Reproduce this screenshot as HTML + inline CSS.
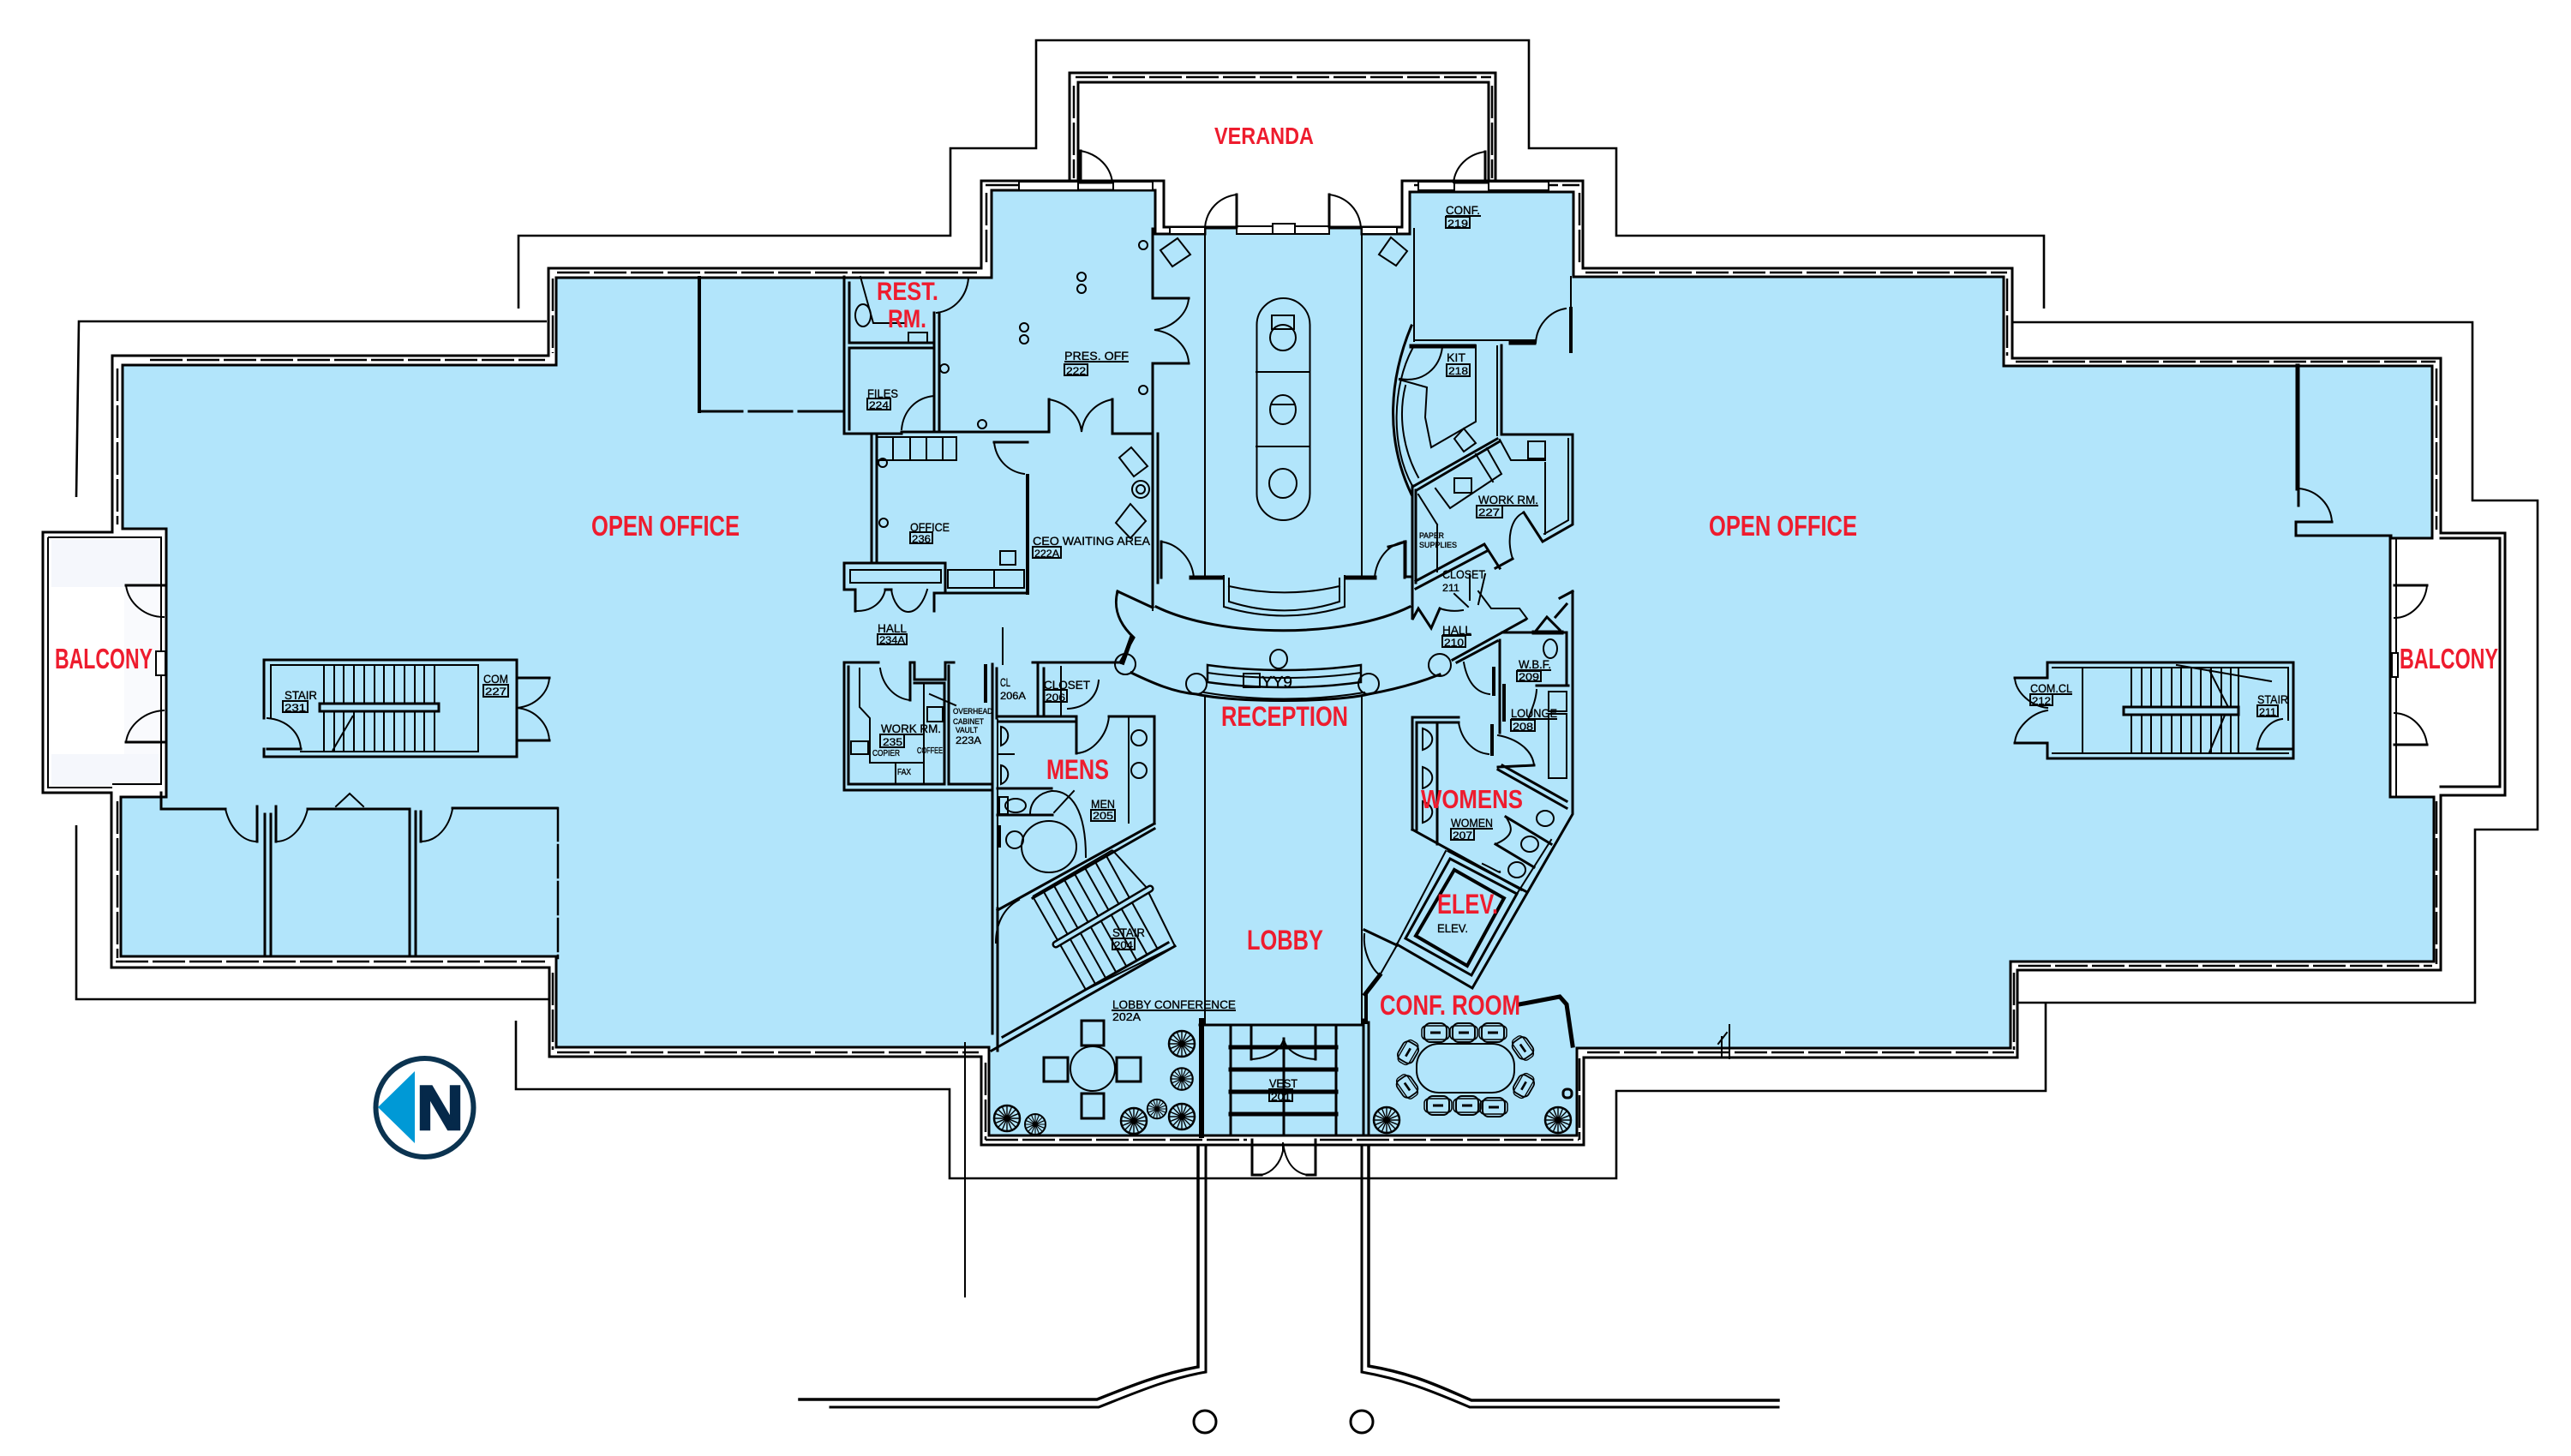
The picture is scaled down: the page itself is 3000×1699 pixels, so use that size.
<!DOCTYPE html>
<html>
<head>
<meta charset="utf-8">
<style>
html,body{margin:0;padding:0;background:#fff}
svg{display:block}
.k{fill:none;stroke:#000;stroke-width:3;stroke-linecap:square}
.b{fill:none;stroke:#000;stroke-width:2}
.h{fill:none;stroke:#000;stroke-width:6}
.w{fill:none;stroke:#000;stroke-width:2.5;stroke-dasharray:38 5}
.o{fill:none;stroke:#000;stroke-width:2.6}
.t{fill:none;stroke:#000;stroke-width:2}
text{font-family:"Liberation Sans",sans-serif}
.r{fill:#ee1c2e;font-weight:bold}
.s{fill:#000;font-size:14px;stroke:#000;stroke-width:.35}
</style>
</head>
<body>
<svg xmlns="http://www.w3.org/2000/svg" width="3000" height="1699" viewBox="0 0 3000 1699">
<defs>
<g id="p"><circle r="15" fill="none" stroke="#000" stroke-width="2.5"/><circle r="3" fill="#000"/>
<path d="M-15,0H15M0,-15V15M-10.6,-10.6L10.6,10.6M-10.6,10.6L10.6,-10.6M-5.7,-13.9L5.7,13.9M5.7,-13.9L-5.7,13.9M-13.9,-5.7L13.9,5.7M-13.9,5.7L13.9,-5.7" stroke="#000" stroke-width="1.4"/></g>
<g id="c"><rect x="-13" y="-11" width="26" height="22" rx="7" fill="none" stroke="#000" stroke-width="2"/><rect x="-16" y="-8" width="32" height="16" rx="5" fill="none" stroke="#000" stroke-width="1.5"/><path d="M-6,0H6" stroke="#000" stroke-width="3"/></g>
</defs>

<!-- blue floor fill -->
<polygon points="143,426 649,426 649,324 1157,324 1157,222 1348,222 1348,273 1406,273 1406,266 1589,266 1589,273 1645,273 1645,224 1836,224 1836,323 2338,323 2338,427 2838,427 2838,628 2789,628 2789,930 2840,930 2840,1122 2346,1122 2346,1223 1840,1223 1840,1325 1154,1325 1154,1222 649,1222 649,1116 141,1116 141,930 194,930 194,617 143,617" fill="#b2e5fb" stroke="#000" stroke-width="3"/>

<!-- balcony faint -->
<rect x="60" y="630" width="125" height="55" fill="#f5f7fc"/>
<rect x="60" y="880" width="125" height="37" fill="#f5f7fc"/>
<rect x="145" y="685" width="40" height="195" fill="#f9fafd"/>

<!-- outer setback line -->
<g class="o">
<path d="M605,360V275H1109V173H1209V47H1784V173H1886V275H2385V360"/>
<path d="M2348,376H2885V584H2961V968H2888V1170H2354"/>
<path d="M2387,1170V1273H1886V1375H1108V1271H602V1191"/>
<path d="M640,1166H89V963"/>
<path d="M89,580L92,375H638"/>
<path d="M1126,1216V1514" stroke-width="2"/>
</g>

<!-- building outer wall -->
<polygon class="k" stroke-width="3.5" points="131,415 640,415 640,313 1145,313 1145,211 1358,211 1358,265 1636,265 1636,211 1847,211 1847,313 2348,313 2348,418 2848,418 2848,622 2923,622 2923,928 2848,928 2848,1132 2354,1132 2354,1234 1848,1234 1848,1336 1145,1336 1145,1233 641,1233 641,1129 130,1129 130,925 50,925 50,621 131,621"/>
<path class="k" d="M1248,212V85H1745V212" stroke-width="4"/>
<path class="k" d="M1258,213V96H1737V213" stroke-width="4"/>
<path class="k" d="M1258,213H1299M1696,213H1737"/>
<path class="b" d="M56,627H131M56,627V919H131"/>
<path class="k" d="M2848,628H2917V918H2848"/>
<path class="b" d="M131,627H188V915H131"/>
<path class="b" d="M2796,628V930"/>
<rect x="182" y="760" width="11" height="28" fill="#fff" stroke="#000" stroke-width="2"/>
<rect x="2791" y="762" width="7" height="28" fill="#fff" stroke="#000" stroke-width="2"/>

<!-- window dashes in walls -->
<g class="w">
<path d="M175,420H636M650,318H1140M1150,216H1258M1300,216H1345M1650,216H1696M1737,216H1843M1850,318H2342M2352,422H2842M2355,1127H2838M1852,1228H2350M1150,1330H1455M1540,1330H1842M650,1228H1142M135,1122H636M1255,90H1740"/>
<path d="M137,430V612M137,935V1118M2843,430V618M2843,935V1125M1253,100V208M1741,100V208M1151,225V310M1150,1240V1330M1843,1235V1330M1843,225V310M645,325V412M645,1135V1225M2342,325V415M2350,1135V1225"/>
</g>
<!-- white window inserts -->
<g fill="#fff" stroke="#000" stroke-width="2">
<rect x="1189" y="212" width="69" height="10"/><rect x="1299" y="212" width="46" height="10"/>
<rect x="1655" y="212" width="42" height="10"/><rect x="1737" y="212" width="70" height="10"/>
<rect x="1443" y="264" width="108" height="9"/><rect x="1485" y="261" width="26" height="12"/>
<rect x="1365" y="265" width="41" height="8"/><rect x="1589" y="265" width="41" height="8"/>
</g>

<!-- veranda doors -->
<g class="k">
<path d="M1261,176V213"/><path class="b" d="M1261,176C1282,180 1296,195 1298,213"/>
<path d="M1733,177V213"/><path class="b" d="M1733,177C1712,180 1698,195 1696,213"/>
<path d="M1443,227V265"/><path class="b" d="M1443,227C1422,230 1408,245 1406,265"/>
<path d="M1551,227V265"/><path class="b" d="M1551,227C1572,230 1586,245 1588,265"/>
</g>

<!-- balcony doors left -->
<g class="k">
<path d="M147,683H191M147,866H191"/>
<path class="b" d="M147,683C150,705 170,720 191,720M147,866C150,845 170,830 191,829"/>
<path d="M2794,683H2832M2794,869H2832"/>
<path class="b" d="M2832,683C2830,705 2812,721 2794,721M2794,832C2815,833 2830,850 2832,869"/>
</g>

<!-- left stair -->
<g class="k">
<path d="M308,770H603V883H308V874M308,838V770"/>
<path class="b" d="M316,776H558V877H351M316,776V838M558,776V877M603,776V791M603,864V877"/>
<path class="b" d="M312,838C335,840 350,855 351,874"/>
<path d="M312,874H351"/>
<path d="M603,791H641M603,864H641"/>
<path class="b" d="M641,791C640,808 625,824 603,826C625,828 640,845 641,864"/>
</g>
<g class="b">
<path d="M378,776V877M390,776V877M401,776V877M413,776V877M425,776V877M437,776V877M448,776V877M460,776V877M472,776V877M484,776V877M495,776V877M507,776V877"/>
<path d="M388,876L412,835"/>
</g>
<rect x="373" y="821" width="139" height="9" fill="#b2e5fb" stroke="#000" stroke-width="3"/>

<!-- left lower rooms -->
<g class="k">
<path d="M188,925V944H263"/>
<path d="M300,941V982M322,941V982"/>
<path class="b" d="M263,944C268,965 282,982 300,982M359,944C354,965 340,982 322,982"/>
<path d="M359,944H478V1116M485,947V1116"/>
<path d="M309,950V1116M316,950V1116"/>
<path d="M491,982V947"/>
<path class="b" d="M528,944C524,965 510,982 491,982"/>
<path d="M528,943H650"/>
<path class="w" stroke-width="3" stroke-dasharray="24 5" d="M651,943V1118"/>
<path class="b" d="M392,941L408,926L424,941"/>
</g>

<!-- top-left room -->
<g class="k">
<path stroke-dasharray="42 4" stroke-width="4" d="M816,324V480"/>
<path stroke-dasharray="50 8" d="M816,480H982"/>
<path d="M985,323V506H1052M991,330V400H1089M991,406H1089M991,406V501"/>
<path d="M1090,365V504M1096,365V504"/>
<path class="b" d="M1130,325C1128,345 1115,362 1093,365"/>
<path class="b" d="M1052,501C1054,480 1068,464 1090,462"/>
<path d="M1052,504H1224V466M1298,466V506H1345"/>
<path class="b" d="M1224,466C1245,470 1260,485 1262,504C1264,485 1278,470 1298,466"/>
<path d="M1345,267V348H1387"/>
<path class="b" d="M1387,348C1386,365 1370,382 1347,385C1370,388 1386,405 1387,423"/>
<path d="M1345,424H1387"/>
<path d="M1345,424V707M1351,506V680"/>
<path class="b" d="M1004,323L1019,377H1055"/>
<ellipse class="b" cx="1007" cy="368" rx="9" ry="13"/>
<rect class="b" x="1060" y="388" width="22" height="12"/>
<circle class="b" cx="1102" cy="430" r="5"/><circle class="b" cx="1146" cy="495" r="5"/>
<circle class="b" cx="1334" cy="286" r="5"/><circle class="b" cx="1334" cy="455" r="5"/>
<circle class="b" cx="1262" cy="323" r="5"/><circle class="b" cx="1262" cy="337" r="5"/>
<circle class="b" cx="1195" cy="382" r="5"/><circle class="b" cx="1195" cy="396" r="5"/>
</g>

<!-- office 236, hall -->
<g class="k">
<path d="M1017,508V657M1023,508V657"/>
<path d="M985,657H1103V692H1199V555"/>
<path stroke-width="4" d="M1199,555V692"/>
<path d="M985,657V688H998V713M1100,692H1090V713"/>
<path class="b" d="M992,665H1098V680H992Z"/>
<path class="b" d="M998,713C1018,714 1030,702 1033,688M1040,688C1042,702 1050,714 1060,714C1070,714 1078,702 1082,688"/>
<path d="M1040,688H1033"/>
<path class="b" d="M1106,665H1195V686H1106Z"/>
<path class="b" d="M1160,665V686"/>
<path d="M1160,516H1199"/>
<path class="b" d="M1160,516C1162,535 1175,550 1195,553"/>
<path class="b" d="M1023,510H1116V537H1023ZM1042,510V537M1062,510V537M1081,510V537M1100,510V537"/>
<circle class="b" cx="1030" cy="540" r="5"/><circle class="b" cx="1031" cy="610" r="5"/>
<rect class="b" x="1167" y="643" width="18" height="16"/>
</g>

<!-- central columns, stadium -->
<g class="k">
<path class="b" d="M1406,266V672M1589,266V672M1406,812V1195M1589,812V1195"/>
<path class="b" d="M1650,267V398"/>
<rect class="b" x="1466.5" y="348" width="62" height="259" rx="31"/>
<path class="b" d="M1466,434H1528M1466,521H1528"/>
<ellipse class="b" cx="1497" cy="394" rx="15" ry="15"/>
<rect class="b" x="1484" y="368" width="26" height="16"/>
<ellipse class="b" cx="1497" cy="478" rx="15" ry="17"/>
<path class="b" d="M1484,472H1510"/>
<ellipse class="b" cx="1497" cy="564" rx="16" ry="17"/>
<polygon class="b" points="1374,278 1389,297 1368,311 1354,292"/>
<polygon class="b" points="1623,277 1642,293 1629,310 1609,297"/>
<polygon class="b" points="1320,522 1339,544 1323,556 1306,534"/>
<circle class="b" cx="1331" cy="571" r="10"/><circle class="b" cx="1331" cy="571" r="5"/>
<polygon class="b" points="1319,588 1337,608 1319,628 1302,610"/>
</g>

<!-- rotunda -->
<g class="k">
<path d="M1355,632V674"/><path class="b" d="M1355,632C1375,635 1391,652 1393,674"/>
<path d="M1639,632V674"/><path class="b" d="M1639,632C1620,635 1606,652 1604,674"/>
<path stroke-width="5" d="M1390,674H1425M1572,674H1604"/>
<path class="b" d="M1428,672V708C1475,722 1522,722 1569,708V672"/>
<path class="b" d="M1434,675V702C1478,716 1520,716 1563,702V675"/>
<path class="b" d="M1434,684C1478,694 1520,694 1563,684"/>
<path d="M1349,708C1425,745 1570,745 1645,708" stroke-width="3"/>
<path class="b" d="M1345,712V640"/>
<path d="M1304,690L1345,709"/>
<path d="M1304,690C1298,712 1308,730 1323,744L1307,773"/>
<path d="M1320,745L1310,773" stroke-width="5"/>
<path d="M1205,773H1307"/>
<circle class="b" cx="1313" cy="775" r="12"/>
<circle class="b" cx="1680" cy="776" r="13"/>
<circle class="b" cx="1396" cy="798" r="12"/>
<circle class="b" cx="1597" cy="798" r="12"/>
<path d="M1320,785C1345,797 1370,808 1396,810C1440,820 1555,820 1597,810C1625,805 1655,797 1680,787"/>
<path d="M1409,776C1465,784 1532,784 1588,776V796C1532,804 1465,804 1409,796Z" stroke-width="2.5"/>
<path class="b" d="M1409,785C1465,793 1532,793 1588,785"/>
<path class="b" d="M1405,808C1465,818 1532,818 1592,808"/>
<ellipse class="b" cx="1492" cy="769" rx="10" ry="11"/>
</g>

<!-- lobby closets / men -->
<g class="k">
<path d="M985,773V922H1158M990,778V915H1102M985,773H1025"/>
<path class="b" d="M1027,780C1030,800 1044,815 1062,817"/>
<path d="M1062,773V817M1062,773H1067V793H1103V773H1113"/>
<path d="M1067,797H1102V915M1107,777V915H1158"/>
<path class="b" d="M1078,797V915M1003,780V825L1015,838V890H1078M1045,892V915M1040,857H1078"/>
<rect class="b" x="1082" y="825" width="18" height="17"/>
<rect class="b" x="993" y="865" width="20" height="15" stroke-width="3"/>
<path class="b" d="M1085,810L1115,823"/>
<path stroke-width="4" d="M1150,777V818"/>
<path d="M1158,775V1206M1163,780V838"/>
<path class="b" d="M1170,733V775M1164,840V1222"/>
<path d="M1205,773H1304M1211,773V836M1218,780V836"/>
<path class="b" d="M1238,778V836M1282,794C1280,815 1265,826 1246,827"/>
<path d="M1163,836H1253M1165,842H1253"/>
<path d="M1256,836V879M1294,836H1347V961"/>
<path class="b" d="M1256,879C1275,878 1292,858 1294,836M1317,838V960"/>
<circle class="b" cx="1329" cy="861" r="9"/><circle class="b" cx="1329" cy="899" r="9"/>
<path class="b" d="M1168,848C1178,850 1180,865 1168,870ZM1168,893C1178,895 1180,910 1168,915Z"/>
<path class="b" d="M1164,880H1183"/>
<path d="M1164,920H1227M1164,951H1228"/>
<ellipse class="b" cx="1185" cy="940" rx="12" ry="8"/>
<rect class="b" x="1166" y="930" width="10" height="20"/>
<path class="b" d="M1202,950C1202,935 1213,925 1227,923C1250,922 1267,945 1267,1000M1230,948L1253,923"/>
<path stroke-width="4" d="M1166,965V987"/>
<circle class="b" cx="1184" cy="980" r="10"/>
<ellipse class="b" cx="1224" cy="988" rx="32" ry="30"/>
<path d="M1347,961L1164,1062M1347,967L1205,1048"/>
<path class="b" d="M1189,1050C1170,1060 1162,1080 1162,1100"/>
</g>

<!-- main stair -->
<g class="b">
<path d="M1205,1046L1298,992M1267,1155L1371,1104"/>
<path d="M1205,1046L1267,1155M1217,1039L1278,1148M1229,1032L1290,1141M1241,1025L1302,1134M1253,1018L1314,1127M1265,1011L1326,1120M1277,1004L1338,1113M1290,997L1350,1106M1298,992L1340,1038M1339,1039L1371,1104"/>
</g>
<path d="M1232,1102L1342,1037" stroke="#000" stroke-width="9" stroke-linecap="round"/>
<path d="M1232,1102L1342,1037" stroke="#b2e5fb" stroke-width="4" stroke-linecap="round"/>
<path class="k" d="M1371,1104L1157,1226M1363,1100L1170,1210M1164,1226V1060"/>

<!-- lobby conference -->
<g class="k">
<circle class="b" cx="1275" cy="1247" r="26"/>
<rect x="1262" y="1191" width="26" height="29"/>
<rect x="1262" y="1276" width="26" height="29"/>
<rect x="1218" y="1234" width="28" height="28"/>
<rect x="1303" y="1234" width="28" height="28"/>
</g>
<use href="#p" transform="translate(1379,1218)"/>
<use href="#p" transform="translate(1379,1259) scale(.85)"/>
<use href="#p" transform="translate(1379,1303)"/>
<use href="#p" transform="translate(1350,1294) scale(.75)"/>
<use href="#p" transform="translate(1323,1308)"/>
<use href="#p" transform="translate(1175,1305)"/>
<use href="#p" transform="translate(1208,1312) scale(.8)"/>

<!-- vestibule -->
<g class="k">
<path stroke-width="6" stroke-dasharray="8 2" d="M1402,1191V1325"/>
<path d="M1400,1196H1591M1436,1198V1325M1559,1198V1325M1498,1212V1325"/>
<path d="M1460,1198V1236M1535,1198V1236"/>
<path class="b" d="M1460,1236C1480,1235 1495,1225 1498,1212C1500,1225 1515,1235 1535,1236"/>
<path stroke-width="5" d="M1436,1222H1559M1436,1248H1559M1436,1274H1559M1436,1300H1559"/>
<path d="M1591,1190V1325M1597,1193V1325"/>
<path stroke-dasharray="8 2" stroke-width="4" d="M1594,1160V1193"/>
</g>

<!-- entry -->
<g class="k">
<path d="M1461,1330V1371H1472M1535,1330V1371H1525"/>
<path class="b" d="M1472,1371C1485,1368 1494,1357 1497,1343V1333C1500,1357 1510,1368 1525,1371"/>
<path d="M1398,1338V1595C1355,1603 1320,1617 1280,1633H933" stroke-width="3.5"/>
<path d="M1407,1338V1601C1365,1608 1325,1625 1282,1642H969"/>
<path d="M1589,1338V1601C1640,1610 1675,1625 1715,1642H2075"/>
<path d="M1597,1338V1594C1650,1603 1680,1618 1717,1634H2075" stroke-width="3.5"/>
</g>
<circle class="k" cx="1406" cy="1659" r="13"/>
<circle class="k" cx="1589" cy="1659" r="13"/>

<!-- conf room right -->
<g class="k">
<rect x="1653" y="1218" width="114" height="57" rx="26" class="t" stroke-width="2.5"/>
<path stroke-width="5" d="M1773,1172L1820,1163L1828,1172L1835,1220"/>
</g>
<use href="#c" transform="translate(1675,1205)"/><use href="#c" transform="translate(1708,1205)"/><use href="#c" transform="translate(1742,1205)"/>
<use href="#c" transform="translate(1678,1290)"/><use href="#c" transform="translate(1712,1290)"/><use href="#c" transform="translate(1743,1292)"/>
<use href="#c" transform="translate(1643,1228) rotate(-60) scale(.9)"/><use href="#c" transform="translate(1642,1268) rotate(55) scale(.9)"/>
<use href="#c" transform="translate(1777,1223) rotate(55) scale(.9)"/><use href="#c" transform="translate(1778,1267) rotate(-60) scale(.9)"/>
<use href="#p" transform="translate(1618,1307)"/><use href="#p" transform="translate(1818,1307)"/>
<rect x="1824" y="1271" width="10" height="10" rx="4" fill="none" stroke="#000" stroke-width="3"/>

<!-- elevator + women -->
<g class="k">
<path d="M1630,1102L1718,1153L1835,950V690"/>
<path class="b" d="M1630,1102L1687,993"/>
<path d="M1640,1095L1692,1002L1770,1043L1717,1138Z"/>
<path stroke-width="4" d="M1697,1015L1755,1048L1712,1127L1652,1092Z"/>
<path d="M1592,1085L1630,1103"/>
<path class="b" d="M1592,1090C1590,1110 1600,1130 1610,1138L1630,1103"/>
<path stroke-width="5" stroke-dasharray="6 2" d="M1610,1138L1593,1160"/>
<path d="M1648,968V837H1702M1653,843H1702M1653,843V968M1677,843V985"/>
<path d="M1648,968L1775,1038M1690,993L1780,1040"/>
<path class="b" d="M1702,843C1705,862 1718,878 1737,880"/>
<path stroke-width="4" d="M1741,847V880"/>
<path class="b" d="M1748,858C1770,862 1788,875 1790,893"/>
<path d="M1748,895L1790,893M1748,898L1828,943M1753,893L1828,935"/>
<path d="M1750,747V855"/>
<path stroke-width="4" d="M1755,800V840"/>
<path class="b" d="M1708,773C1712,795 1722,808 1738,810"/>
<path stroke-width="4" d="M1743,780V810"/>
<path d="M1695,770L1780,723M1700,773L1747,748"/>
<path d="M1753,738H1828V800M1793,738"/>
<path stroke-width="5" d="M1790,738H1822"/>
<path d="M1793,800H1830"/>
<path class="b" d="M1793,805C1792,820 1785,832 1783,840"/>
<rect class="b" x="1807" y="807" width="21" height="23"/>
<rect class="b" x="1807" y="833" width="21" height="75"/>
<ellipse class="b" cx="1809" cy="757" rx="8" ry="11"/>
<path class="b" d="M1660,850C1675,855 1675,870 1660,875ZM1660,895C1675,900 1675,915 1660,920ZM1660,935C1675,940 1675,955 1660,960Z"/>
<path d="M1757,953L1810,985M1745,985L1790,1012"/>
<ellipse class="b" cx="1803" cy="955" rx="10" ry="9"/><ellipse class="b" cx="1785" cy="985" rx="10" ry="9"/><ellipse class="b" cx="1770" cy="1015" rx="10" ry="9"/>
<path class="b" d="M1730,1008C1745,1015 1752,1020 1750,1017M1810,980L1770,1043"/>
<path class="b" d="M1757,953C1765,965 1768,975 1745,985"/>
</g>

<!-- hall / closets right -->
<g class="k">
<path d="M1648,567V723L1655,710L1670,733L1680,710"/>
<path class="b" d="M1680,710C1695,715 1705,712 1707,712M1697,693L1713,708M1725,690L1740,710H1773L1782,722"/>
<path d="M1652,678L1732,635L1750,663M1652,687L1735,643"/>
<path d="M1765,652L1745,663"/>
<path class="b" d="M1715,670V700M1733,670L1725,705"/>
<path d="M1820,698L1835,690M1793,735L1805,720L1820,735M1815,720L1828,705"/>
<path d="M1652,572V680"/>
<path class="b" d="M1677,612V667M1655,577L1677,612"/>
<path d="M1640,632V673H1648M1620,638C1630,636 1636,633 1640,632"/>
</g>

<!-- kit, work room -->
<g class="k">
<path class="b" d="M1650,397H1792"/>
<path stroke-width="5" d="M1647,404H1720M1763,400H1790"/>
<path d="M1833,360V410" stroke-width="4"/>
<path class="b" d="M1833,323V360"/>
<path class="b" d="M1827,360C1808,363 1793,380 1792,400"/>
<path d="M1647,380C1622,440 1615,510 1647,577"/>
<path class="b" d="M1648,407C1625,450 1622,520 1648,567M1640,450C1630,490 1640,530 1655,557"/>
<path class="b" d="M1633,442C1660,447 1680,430 1683,405"/>
<path class="b" d="M1633,443L1665,452L1663,487L1670,522L1722,492V403"/>
<path class="b" d="M1747,404V508"/>
<path d="M1752,403V507H1835V612L1800,632L1778,598"/>
<path d="M1650,567L1747,512M1653,572L1750,515"/>
<polygon class="b" points="1697,512 1708,500 1722,517 1708,527"/>
<path class="b" d="M1778,598C1762,605 1758,630 1765,652"/>
<path class="b" d="M1830,512V607L1802,623M1803,540V623M1750,513L1763,537H1803"/>
<rect class="b" x="1783" y="515" width="20" height="20" stroke-width="3"/>
<path class="b" d="M1675,570L1692,593L1752,553L1735,523M1722,530L1742,562"/>
<rect class="b" x="1697" y="558" width="20" height="17"/>
</g>

<!-- right stair -->
<g class="k">
<path d="M2389,773H2676V885H2389V870M2389,773V791"/>
<path class="b" d="M2395,779H2670M2395,879H2670M2430,779V879M2612,779V879M2670,779V840"/>
<path d="M2351,791H2389M2351,867H2389"/>
<path class="b" d="M2351,791C2352,808 2370,824 2389,826M2389,829C2370,832 2352,850 2351,867"/>
<path class="b" d="M2634,874C2636,855 2648,841 2663,839"/>
<path d="M2634,874H2676"/>
<path class="b" d="M2487,779V879M2499,779V879M2510,779V879M2522,779V879M2534,779V879M2545,779V879M2557,779V879M2568,779V879M2580,779V879M2592,779V879M2603,779V879"/>
<path class="b" d="M2578,782L2600,825L2578,878M2540,776L2650,795"/>
<rect x="2478" y="825" width="134" height="9" fill="#b2e5fb" stroke="#000" stroke-width="3"/>
</g>

<!-- right top room -->
<g class="k">
<path stroke-width="5" stroke-dasharray="14 3" d="M2681,427V570"/>
<path d="M2682,570V590M2679,609H2721M2679,609V625H2790"/>
<path class="b" d="M2682,570C2705,572 2720,590 2721,609"/>
<path class="b" d="M2009,1210V1232M2018,1196V1235M2015,1205L2005,1218"/>
</g>

<!-- north logo -->
<ellipse cx="495.5" cy="1292.5" rx="57" ry="57.5" fill="#fff" stroke="#0b3350" stroke-width="6"/>
<polygon points="441,1292 484,1250 484,1334" fill="#0099d6"/>
<text x="486" y="1318" font-size="73" font-weight="bold" fill="#05294a" stroke="#05294a" stroke-width="2.5" textLength="55" lengthAdjust="spacingAndGlyphs">N</text>

<!-- room small labels -->
<g class="t">
<rect x="330" y="818" width="29" height="13"/><rect x="564" y="799" width="29" height="14"/>
<rect x="1687" y="253" width="28" height="13"/><rect x="1012" y="465" width="27" height="13"/>
<rect x="1242" y="425" width="27" height="13"/><rect x="1062" y="621" width="26" height="13"/>
<rect x="1205" y="638" width="33" height="13"/><rect x="1024" y="740" width="34" height="12"/>
<rect x="1688" y="425" width="27" height="14"/><rect x="1723" y="590" width="30" height="14"/>
<rect x="1683" y="742" width="27" height="13"/><rect x="1770" y="783" width="28" height="12"/>
<rect x="1763" y="840" width="28" height="13"/><rect x="1693" y="967" width="27" height="13"/>
<rect x="1273" y="945" width="28" height="13"/><rect x="1298" y="1095" width="26" height="13"/>
<rect x="1481" y="1271" width="27" height="14"/><rect x="1451" y="786" width="19" height="16"/>
<rect x="1027" y="857" width="28" height="15"/><rect x="1218" y="805" width="27" height="14"/>
<rect x="2369" y="810" width="26" height="13"/><rect x="2634" y="823" width="24" height="13"/>
<path d="M1242,422H1317M1725,590H1795M1297,1179H1442M2369,810H2418M1687,252H1728M1693,967H1742M1770,782H1810M1763,839H1817M1683,741H1717"/>
</g>
<g class="s">
<text x="332" y="816" textLength="38" lengthAdjust="spacingAndGlyphs">STAIR</text>
<text x="332" y="830" font-size="12" textLength="25" lengthAdjust="spacingAndGlyphs">231</text>
<text x="564" y="797" textLength="29" lengthAdjust="spacingAndGlyphs">COM</text>
<text x="566" y="811" font-size="12" textLength="25" lengthAdjust="spacingAndGlyphs">227</text>
<text x="1687" y="250" textLength="40" lengthAdjust="spacingAndGlyphs">CONF.</text>
<text x="1689" y="265" font-size="12" textLength="24" lengthAdjust="spacingAndGlyphs">219</text>
<text x="1012" y="464" textLength="36" lengthAdjust="spacingAndGlyphs">FILES</text>
<text x="1014" y="477" font-size="12" textLength="23" lengthAdjust="spacingAndGlyphs">224</text>
<text x="1242" y="420" textLength="75" lengthAdjust="spacingAndGlyphs">PRES. OFF</text>
<text x="1244" y="437" font-size="12" textLength="23" lengthAdjust="spacingAndGlyphs">222</text>
<text x="1062" y="620" textLength="46" lengthAdjust="spacingAndGlyphs">OFFICE</text>
<text x="1064" y="633" font-size="12" textLength="22" lengthAdjust="spacingAndGlyphs">236</text>
<text x="1205" y="636" textLength="137" lengthAdjust="spacingAndGlyphs">CEO WAITING AREA</text>
<text x="1207" y="650" font-size="12" textLength="29" lengthAdjust="spacingAndGlyphs">222A</text>
<text x="1024" y="738" textLength="34" lengthAdjust="spacingAndGlyphs">HALL</text>
<text x="1026" y="751" font-size="12" textLength="30" lengthAdjust="spacingAndGlyphs">234A</text>
<text x="1688" y="422" textLength="22" lengthAdjust="spacingAndGlyphs">KIT</text>
<text x="1690" y="437" font-size="12" textLength="23" lengthAdjust="spacingAndGlyphs">218</text>
<text x="1725" y="588" textLength="70" lengthAdjust="spacingAndGlyphs">WORK RM.</text>
<text x="1725" y="602" font-size="12" textLength="25" lengthAdjust="spacingAndGlyphs">227</text>
<text x="1656" y="628" font-size="9" textLength="29" lengthAdjust="spacingAndGlyphs">PAPER</text>
<text x="1656" y="639" font-size="9" textLength="44" lengthAdjust="spacingAndGlyphs">SUPPLIES</text>
<text x="1683" y="675" textLength="50" lengthAdjust="spacingAndGlyphs">CLOSET</text>
<text x="1683" y="690" font-size="12" textLength="20" lengthAdjust="spacingAndGlyphs">211</text>
<text x="1683" y="740" textLength="34" lengthAdjust="spacingAndGlyphs">HALL</text>
<text x="1685" y="754" font-size="12" textLength="23" lengthAdjust="spacingAndGlyphs">210</text>
<text x="1772" y="780" textLength="38" lengthAdjust="spacingAndGlyphs">W.B.F.</text>
<text x="1772" y="794" font-size="12" textLength="24" lengthAdjust="spacingAndGlyphs">209</text>
<text x="1763" y="837" textLength="54" lengthAdjust="spacingAndGlyphs">LOUNGE</text>
<text x="1765" y="852" font-size="12" textLength="24" lengthAdjust="spacingAndGlyphs">208</text>
<text x="1693" y="965" textLength="49" lengthAdjust="spacingAndGlyphs">WOMEN</text>
<text x="1695" y="979" font-size="12" textLength="23" lengthAdjust="spacingAndGlyphs">207</text>
<text x="1677" y="1088" textLength="36" lengthAdjust="spacingAndGlyphs">ELEV.</text>
<text x="1273" y="943" textLength="28" lengthAdjust="spacingAndGlyphs">MEN</text>
<text x="1275" y="956" font-size="12" textLength="24" lengthAdjust="spacingAndGlyphs">205</text>
<text x="1298" y="1093" textLength="38" lengthAdjust="spacingAndGlyphs">STAIR</text>
<text x="1300" y="1107" font-size="12" textLength="22" lengthAdjust="spacingAndGlyphs">204</text>
<text x="1298" y="1177" textLength="144" lengthAdjust="spacingAndGlyphs">LOBBY CONFERENCE</text>
<text x="1298" y="1191" font-size="13" textLength="33" lengthAdjust="spacingAndGlyphs">202A</text>
<text x="1481" y="1269" textLength="33" lengthAdjust="spacingAndGlyphs">VEST</text>
<text x="1483" y="1284" font-size="12" textLength="23" lengthAdjust="spacingAndGlyphs">201</text>
<text x="1472" y="802" font-size="18" textLength="36" lengthAdjust="spacingAndGlyphs">YY9</text>
<text x="1028" y="855" textLength="70" lengthAdjust="spacingAndGlyphs">WORK RM.</text>
<text x="1030" y="870" font-size="12" textLength="23" lengthAdjust="spacingAndGlyphs">235</text>
<text x="1112" y="833" font-size="9" textLength="46" lengthAdjust="spacingAndGlyphs">OVERHEAD</text>
<text x="1112" y="845" font-size="9" textLength="36" lengthAdjust="spacingAndGlyphs">CABINET</text>
<text x="1115" y="855" font-size="9" textLength="26" lengthAdjust="spacingAndGlyphs">VAULT</text>
<text x="1115" y="868" font-size="12" textLength="30" lengthAdjust="spacingAndGlyphs">223A</text>
<text x="1167" y="801" textLength="12" lengthAdjust="spacingAndGlyphs">CL</text>
<text x="1167" y="816" font-size="12" textLength="30" lengthAdjust="spacingAndGlyphs">206A</text>
<text x="1218" y="804" textLength="54" lengthAdjust="spacingAndGlyphs">CLOSET</text>
<text x="1220" y="818" font-size="12" textLength="23" lengthAdjust="spacingAndGlyphs">206</text>
<text x="1018" y="882" font-size="10" textLength="32" lengthAdjust="spacingAndGlyphs">COPIER</text>
<text x="1070" y="879" font-size="10" textLength="30" lengthAdjust="spacingAndGlyphs">COFFEE</text>
<text x="1047" y="904" font-size="10" textLength="16" lengthAdjust="spacingAndGlyphs">FAX</text>
<text x="2369" y="808" textLength="49" lengthAdjust="spacingAndGlyphs">COM.CL</text>
<text x="2371" y="822" font-size="12" textLength="22" lengthAdjust="spacingAndGlyphs">212</text>
<text x="2634" y="821" textLength="36" lengthAdjust="spacingAndGlyphs">STAIR</text>
<text x="2636" y="835" font-size="12" textLength="20" lengthAdjust="spacingAndGlyphs">211</text>
</g>

<!-- red labels -->
<g class="r">
<text x="1417" y="168" font-size="28" textLength="116" lengthAdjust="spacingAndGlyphs">VERANDA</text>
<text x="690" y="625" font-size="33" textLength="173" lengthAdjust="spacingAndGlyphs">OPEN OFFICE</text>
<text x="1994" y="625" font-size="33" textLength="173" lengthAdjust="spacingAndGlyphs">OPEN OFFICE</text>
<text x="64" y="780" font-size="33" textLength="114" lengthAdjust="spacingAndGlyphs">BALCONY</text>
<text x="2800" y="780" font-size="33" textLength="115" lengthAdjust="spacingAndGlyphs">BALCONY</text>
<text x="1023" y="350" font-size="30" textLength="72" lengthAdjust="spacingAndGlyphs">REST.</text>
<text x="1036" y="382" font-size="30" textLength="45" lengthAdjust="spacingAndGlyphs">RM.</text>
<text x="1425" y="847" font-size="32" textLength="148" lengthAdjust="spacingAndGlyphs">RECEPTION</text>
<text x="1221" y="909" font-size="32" textLength="73" lengthAdjust="spacingAndGlyphs">MENS</text>
<text x="1658" y="943" font-size="31" textLength="119" lengthAdjust="spacingAndGlyphs">WOMENS</text>
<text x="1677" y="1066" font-size="32" textLength="71" lengthAdjust="spacingAndGlyphs">ELEV.</text>
<text x="1455" y="1108" font-size="32" textLength="89" lengthAdjust="spacingAndGlyphs">LOBBY</text>
<text x="1610" y="1184" font-size="32" textLength="164" lengthAdjust="spacingAndGlyphs">CONF. ROOM</text>
</g>
</svg>
</body>
</html>
